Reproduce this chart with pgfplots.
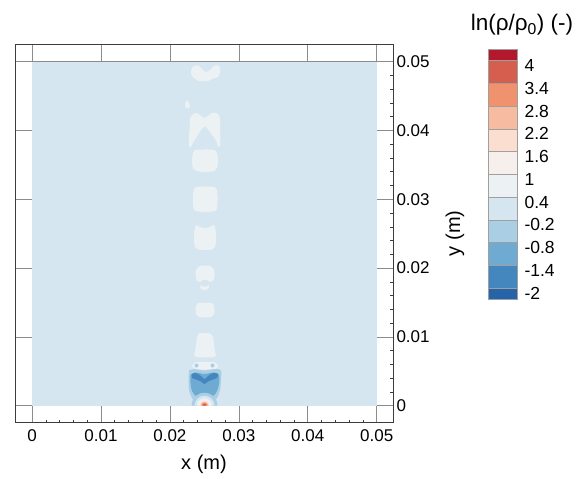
\documentclass[border=0pt]{standalone}
\usepackage{fontspec}
\setmainfont{Liberation Sans}
\usepackage{pgfplots}
\pgfplotsset{compat=1.18}

\definecolor{cA}{RGB}{38,100,170}
\definecolor{cB}{RGB}{68,135,190}
\definecolor{cC}{RGB}{110,170,210}
\definecolor{cD}{RGB}{170,207,229}
\definecolor{cE}{RGB}{214,230,240}
\definecolor{cF}{RGB}{236,241,244}
\definecolor{cG}{RGB}{246,239,235}
\definecolor{cH}{RGB}{252,222,208}
\definecolor{cI}{RGB}{247,187,162}
\definecolor{cJ}{RGB}{240,146,110}
\definecolor{cK}{RGB}{214,94,78}
\definecolor{cL}{RGB}{178,25,45}
\definecolor{framec}{RGB}{60,60,60}
\definecolor{gridc}{RGB}{140,140,140}

\pgfplotsset{
  blob/.style={draw=none, fill=#1, smooth, tension=0.5},
  band/.style={draw=gray!75, line width=0.5pt, fill=#1},
}

\begin{document}
\begin{tikzpicture}
\useasboundingbox (-15pt,-56.3pt) rectangle (569pt,422.7pt);
\begin{axis}[
  at={(0pt,0pt)}, anchor=south west,
  scale only axis, width=378pt, height=378.7pt,
  xmin=-0.00247, xmax=0.05236, ymin=-0.00247, ymax=0.05257,
  xtick={0,0.01,0.02,0.03,0.04,0.05},
  ytick={0,0.01,0.02,0.03,0.04,0.05},
  xticklabels={0,0.01,0.02,0.03,0.04,0.05},
  yticklabels={0,0.01,0.02,0.03,0.04,0.05},
  scaled ticks=false,
  xtick pos=left, ytick pos=right, yticklabel pos=right,
  minor x tick num=4, minor y tick num=4,
  tick align=inside,
  major tick length=0pt, minor tick length=3pt,
  grid=major,
  major grid style={draw=gridc, line width=0.7pt},
  axis line style={draw=framec, line width=0.8pt},
  every tick/.style={draw=framec, line width=0.6pt},
  tick label style={font=\fontsize{17}{20}\selectfont},
  xticklabel style={yshift=-3.3pt},
  label style={font=\fontsize{20}{24}\selectfont},
  xlabel={x (m)}, ylabel={y (m)},
  xlabel style={at={(axis description cs:0.5,-0.111)}, anchor=center},
  ylabel style={at={(axis description cs:1.164,0.5)}, anchor=center, rotate=0},
]
% background field level (-0.2 .. 0.4)
\addplot[draw=none, fill=cE] coordinates {(0,0) (0.05,0) (0.05,0.05) (0,0.05)} -- cycle;
% pale blobs (0.4 .. 1)
\addplot[blob=cF] coordinates {(0.02321,0.04909) (0.02364,0.04945) (0.02422,0.04938) (0.02480,0.04879) (0.02524,0.04850) (0.02582,0.04879) (0.02640,0.04938) (0.02698,0.04945) (0.02727,0.04923) (0.02727,0.04850) (0.02698,0.04778) (0.02654,0.04763) (0.02611,0.04749) (0.02553,0.04720) (0.02422,0.04720) (0.02364,0.04749) (0.02321,0.04792) (0.02306,0.04850) (0.02321,0.04909)} -- cycle;
\addplot[blob=cF] coordinates {(0.02248,0.04443) (0.02277,0.04400) (0.02292,0.04342) (0.02248,0.04320) (0.02219,0.04342) (0.02227,0.04400) (0.02248,0.04443)} -- cycle;
\addplot[blob=cF, tension=0.3] coordinates {(0.02335,0.04240) (0.02393,0.04254) (0.02437,0.04225) (0.02495,0.04182) (0.02553,0.04211) (0.02611,0.04254) (0.02669,0.04254) (0.02712,0.04225) (0.02727,0.04153) (0.02730,0.04080) (0.02730,0.04007) (0.02727,0.03862) (0.02727,0.03775) (0.02698,0.03760) (0.02675,0.03840) (0.02620,0.03925) (0.02550,0.04020) (0.02509,0.04060) (0.02460,0.04020) (0.02400,0.03925) (0.02345,0.03840) (0.02306,0.03760) (0.02277,0.03775) (0.02277,0.03891) (0.02285,0.04007) (0.02288,0.04080) (0.02292,0.04182) (0.02335,0.04240)} -- cycle;
\addplot[blob=cF] coordinates {(0.02364,0.03717) (0.02509,0.03724) (0.02640,0.03717) (0.02683,0.03673) (0.02698,0.03571) (0.02683,0.03455) (0.02640,0.03411) (0.02509,0.03397) (0.02393,0.03411) (0.02335,0.03455) (0.02321,0.03571) (0.02335,0.03673) (0.02364,0.03717)} -- cycle;
\addplot[blob=cF] coordinates {(0.02379,0.03179) (0.02509,0.03186) (0.02640,0.03179) (0.02683,0.03135) (0.02691,0.02990) (0.02683,0.02874) (0.02654,0.02830) (0.02509,0.02815) (0.02379,0.02830) (0.02343,0.02874) (0.02335,0.02990) (0.02343,0.03135) (0.02379,0.03179)} -- cycle;
\addplot[blob=cF] coordinates {(0.02379,0.02626) (0.02437,0.02597) (0.02509,0.02583) (0.02582,0.02597) (0.02640,0.02626) (0.02662,0.02554) (0.02669,0.02408) (0.02654,0.02307) (0.02611,0.02270) (0.02509,0.02263) (0.02408,0.02270) (0.02364,0.02307) (0.02350,0.02408) (0.02357,0.02554) (0.02379,0.02626)} -- cycle;
\addplot[blob=cF] coordinates {(0.02422,0.02023) (0.02509,0.02038) (0.02596,0.02023) (0.02640,0.01972) (0.02647,0.01885) (0.02625,0.01813) (0.02582,0.01798) (0.02538,0.01827) (0.02480,0.01827) (0.02437,0.01798) (0.02393,0.01813) (0.02372,0.01885) (0.02379,0.01972) (0.02422,0.02023)} -- cycle;
\addplot[blob=cF] coordinates {(0.02437,0.01754) (0.02502,0.01725) (0.02567,0.01754) (0.02553,0.01696) (0.02502,0.01682) (0.02451,0.01696) (0.02437,0.01754)} -- cycle;
\addplot[blob=cF] coordinates {(0.02408,0.01493) (0.02509,0.01500) (0.02611,0.01493) (0.02640,0.01449) (0.02647,0.01391) (0.02640,0.01333) (0.02596,0.01289) (0.02509,0.01282) (0.02422,0.01289) (0.02379,0.01333) (0.02372,0.01391) (0.02379,0.01449) (0.02408,0.01493)} -- cycle;
\addplot[blob=cF] coordinates {(0.02422,0.01049) (0.02509,0.01057) (0.02582,0.01049) (0.02625,0.00999) (0.02640,0.00882) (0.02654,0.00781) (0.02669,0.00737) (0.02640,0.00708) (0.02509,0.00701) (0.02379,0.00708) (0.02350,0.00737) (0.02364,0.00781) (0.02379,0.00882) (0.02393,0.00999) (0.02422,0.01049)} -- cycle;
\addplot[blob=cF] coordinates {(0.02321,0.00577) (0.02364,0.00628) (0.02502,0.00635) (0.02654,0.00628) (0.02698,0.00577) (0.02654,0.00533) (0.02502,0.00526) (0.02364,0.00533) (0.02321,0.00577)} -- cycle;
% small dots (-0.8 .. -0.2)
\addplot[blob=cD] coordinates {(0.02415,0.00584) (0.02407,0.00605) (0.02386,0.00613) (0.02365,0.00605) (0.02357,0.00584) (0.02365,0.00563) (0.02386,0.00555) (0.02407,0.00563) (0.02415,0.00584)} -- cycle;
\addplot[blob=cD] coordinates {(0.02647,0.00584) (0.02639,0.00605) (0.02618,0.00613) (0.02597,0.00605) (0.02589,0.00584) (0.02597,0.00563) (0.02618,0.00555) (0.02639,0.00563) (0.02647,0.00584)} -- cycle;
% cup near the source
\addplot[blob=cD] coordinates {(0.02277,0.00512) (0.02350,0.00533) (0.02502,0.00512) (0.02654,0.00533) (0.02741,0.00512) (0.02741,0.00374) (0.02727,0.00228) (0.02683,0.00112) (0.02625,0.00060) (0.02502,0.00040) (0.02379,0.00060) (0.02321,0.00112) (0.02277,0.00228) (0.02270,0.00374) (0.02277,0.00512)} -- cycle;
\addplot[blob=cC] coordinates {(0.02299,0.00446) (0.02364,0.00483) (0.02502,0.00461) (0.02640,0.00483) (0.02712,0.00446) (0.02712,0.00315) (0.02683,0.00214) (0.02625,0.00141) (0.02502,0.00126) (0.02379,0.00141) (0.02321,0.00214) (0.02299,0.00315) (0.02299,0.00446)} -- cycle;
\addplot[blob=cB] coordinates {(0.02314,0.00461) (0.02379,0.00475) (0.02451,0.00432) (0.02502,0.00388) (0.02553,0.00432) (0.02625,0.00475) (0.02698,0.00461) (0.02683,0.00403) (0.02625,0.00381) (0.02553,0.00352) (0.02502,0.00315) (0.02451,0.00352) (0.02379,0.00381) (0.02321,0.00403) (0.02314,0.00461)} -- cycle;
% rings around the source
\addplot[blob=cD] coordinates {(0.02691,0) (0.02676,0.000722) (0.02635,0.001334) (0.02574,0.001743) (0.02502,0.001886) (0.02430,0.001743) (0.02369,0.001334) (0.02328,0.000722) (0.02313,0)} -- cycle;
\addplot[blob=cE] coordinates {(0.02647,0) (0.02636,0.000555) (0.02605,0.001026) (0.02558,0.001341) (0.02502,0.001451) (0.02446,0.001341) (0.02399,0.001026) (0.02368,0.000555) (0.02357,0)} -- cycle;
\addplot[blob=cF] coordinates {(0.02611,0) (0.02603,0.000416) (0.02579,0.000769) (0.02544,0.001005) (0.02502,0.001088) (0.02460,0.001005) (0.02425,0.000769) (0.02401,0.000416) (0.02393,0)} -- cycle;
\addplot[blob=cG] coordinates {(0.02582,0) (0.02576,0.000305) (0.02558,0.000564) (0.02533,0.000737) (0.02502,0.000798) (0.02471,0.000737) (0.02446,0.000564) (0.02428,0.000305) (0.02422,0)} -- cycle;
\addplot[blob=cH] coordinates {(0.02569,0) (0.02564,0.000255) (0.02549,0.000472) (0.02528,0.000617) (0.02502,0.000667) (0.02476,0.000617) (0.02455,0.000472) (0.02440,0.000255) (0.02435,0)} -- cycle;
\addplot[blob=cI] coordinates {(0.02557,0) (0.02553,0.000211) (0.02541,0.000390) (0.02523,0.000509) (0.02502,0.000551) (0.02481,0.000509) (0.02463,0.000390) (0.02451,0.000211) (0.02447,0)} -- cycle;
\addplot[blob=cJ] coordinates {(0.02546,0) (0.02533,0.000308) (0.02502,0.000435) (0.02471,0.000308) (0.02458,0)} -- cycle;
\addplot[blob=cK] coordinates {(0.02531,0) (0.02523,0.000205) (0.02502,0.00029) (0.02481,0.000205) (0.02473,0)} -- cycle;
\end{axis}

% colour legend
\begin{axis}[
  at={(473pt,123.4pt)}, anchor=south west,
  scale only axis, width=29pt, height=250pt,
  xmin=0, xmax=1, ymin=-2.3, ymax=4.3,
  xtick=\empty,
  ytick={-2,-1.4,-0.8,-0.2,0.4,1,1.6,2.2,2.8,3.4,4},
  yticklabels={-2,-1.4,-0.8,-0.2,0.4,1,1.6,2.2,2.8,3.4,4},
  ytick pos=right, yticklabel pos=right,
  major tick length=0pt,
  axis line style={draw=gray!75, line width=0.5pt},
  yticklabel style={font=\fontsize{17.5}{20}\selectfont, anchor=west, xshift=4pt, yshift=-5pt},
  title={ln(ρ/ρ\textsubscript{0}) (-)},
  title style={font=\fontsize{22.5}{26}\selectfont, at={(axis description cs:1.17,1.075)}, anchor=center},
]
\addplot[band=cA] coordinates {(0,-2.3) (1,-2.3) (1,-2) (0,-2)} -- cycle;
\addplot[band=cB] coordinates {(0,-2) (1,-2) (1,-1.4) (0,-1.4)} -- cycle;
\addplot[band=cC] coordinates {(0,-1.4) (1,-1.4) (1,-0.8) (0,-0.8)} -- cycle;
\addplot[band=cD] coordinates {(0,-0.8) (1,-0.8) (1,-0.2) (0,-0.2)} -- cycle;
\addplot[band=cE] coordinates {(0,-0.2) (1,-0.2) (1,0.4) (0,0.4)} -- cycle;
\addplot[band=cF] coordinates {(0,0.4) (1,0.4) (1,1) (0,1)} -- cycle;
\addplot[band=cG] coordinates {(0,1) (1,1) (1,1.6) (0,1.6)} -- cycle;
\addplot[band=cH] coordinates {(0,1.6) (1,1.6) (1,2.2) (0,2.2)} -- cycle;
\addplot[band=cI] coordinates {(0,2.2) (1,2.2) (1,2.8) (0,2.8)} -- cycle;
\addplot[band=cJ] coordinates {(0,2.8) (1,2.8) (1,3.4) (0,3.4)} -- cycle;
\addplot[band=cK] coordinates {(0,3.4) (1,3.4) (1,4) (0,4)} -- cycle;
\addplot[band=cL] coordinates {(0,4) (1,4) (1,4.3) (0,4.3)} -- cycle;
\end{axis}
\end{tikzpicture}
\end{document}
